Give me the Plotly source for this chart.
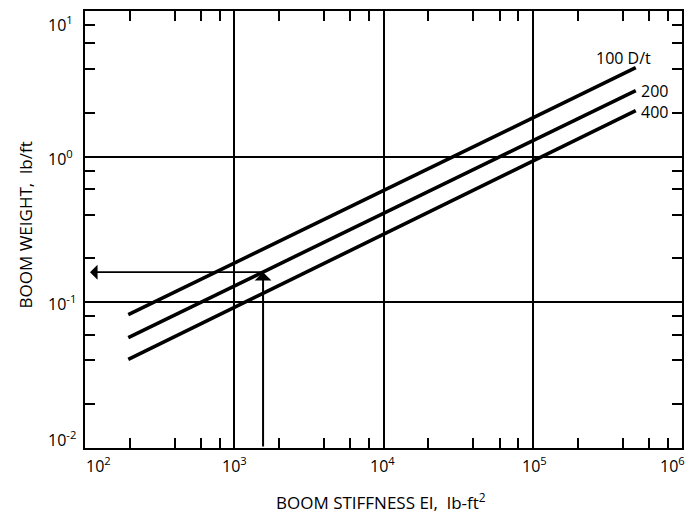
import math
import plotly.graph_objects as go

# Boom weight vs. boom stiffness for three diameter/thickness ratios
ei_span = [195, 4.9e5]              # EI, lb-ft^2 (start / end of each curve)
w_100 = [0.0822, 4.08]              # lb/ft, D/t = 100
w_200 = [0.0573, 2.84]              # lb/ft, D/t = 200
w_400 = [0.0406, 2.07]              # lb/ft, D/t = 400
curve_names = ["100 D/t", "200", "400"]

# Worked example: read weight off the 200 D/t curve
example_ei = 1560
example_w = 0.161
example_arrow_end_ei = 108
example_floor_w = 0.01

x_decades = [1e2, 1e3, 1e4, 1e5, 1e6]
x_decade_text = ["10<sup>2</sup>", "10<sup>3</sup>", "10<sup>4</sup>", "10<sup>5</sup>", "10<sup>6</sup>"]
y_decades = [1e-2, 1e-1, 1e0, 1e1]
y_decade_text = ["10<sup>-2</sup>", "10<sup>-1</sup>", "10<sup>0</sup>", "10<sup>1</sup>"]

x_minor = [m * 10 ** e for e in range(2, 6) for m in (2, 4, 6, 8)]
y_minor = [m * 10 ** e for e in range(-2, 1) for m in (2, 4, 6, 8)]

FONT = "Open Sans"
INK = "black"

fig = go.Figure()
for w in (w_100, w_200, w_400):
    fig.add_trace(go.Scatter(x=ei_span, y=w, mode="lines",
                             line=dict(color=INK, width=3.6), showlegend=False,
                             hoverinfo="skip"))

lg = math.log10

# curve labels
fig.add_annotation(x=lg(ei_span[1]), y=lg(w_100[1]), text=curve_names[0], showarrow=False,
                   xanchor="right", yanchor="middle", xshift=17, yshift=10,
                   font=dict(family=FONT, size=16, color=INK))
fig.add_annotation(x=lg(ei_span[1]), y=lg(w_200[1]), text=curve_names[1], showarrow=False,
                   xanchor="left", yanchor="middle", xshift=3, yshift=0,
                   font=dict(family=FONT, size=16, color=INK))
fig.add_annotation(x=lg(ei_span[1]), y=lg(w_400[1]), text=curve_names[2], showarrow=False,
                   xanchor="left", yanchor="middle", xshift=3, yshift=-1,
                   font=dict(family=FONT, size=16, color=INK))

# example arrows
fig.add_annotation(x=lg(example_ei), y=lg(example_w), ax=lg(example_ei), ay=lg(example_floor_w),
                   xref="x", yref="y", axref="x", ayref="y", text="", showarrow=True,
                   arrowhead=1, arrowsize=1.4, arrowwidth=2, arrowcolor=INK, standoff=0)
fig.add_annotation(x=lg(example_arrow_end_ei), y=lg(example_w), ax=lg(example_ei), ay=lg(example_w),
                   xref="x", yref="y", axref="x", ayref="y", text="", showarrow=True,
                   arrowhead=1, arrowsize=1.4, arrowwidth=1.8, arrowcolor=INK, standoff=0)

# decade labels, corners nudged inward
x_shifts = [13, 0, -1, 2, -10]
for v, t, dx in zip(x_decades, x_decade_text, x_shifts):
    fig.add_annotation(x=lg(v), y=0, xref="x", yref="paper", text=t, showarrow=False,
                       xanchor="center", yanchor="middle", xshift=dx, yshift=-17,
                       font=dict(family=FONT, size=16, color=INK))
y_shifts = [9, -1, -1, -13]
for v, t, dy in zip(y_decades, y_decade_text, y_shifts):
    fig.add_annotation(x=0, y=lg(v), xref="paper", yref="y", text=t, showarrow=False,
                       xanchor="left", yanchor="middle", xshift=-39, yshift=dy,
                       font=dict(family=FONT, size=16, color=INK))

# axis titles
fig.add_annotation(x=0.496, y=0, xref="paper", yref="paper",
                   text="BOOM STIFFNESS EI,  lb-ft<sup>2</sup>", showarrow=False,
                   xanchor="center", yanchor="middle", yshift=-53,
                   font=dict(family=FONT, size=17, color=INK))
fig.add_annotation(x=0, y=0.5, xref="paper", yref="paper",
                   text="BOOM WEIGHT,  lb/ft", showarrow=False, textangle=-90,
                   xanchor="center", yanchor="middle", xshift=-60, yshift=4,
                   font=dict(family=FONT, size=17, color=INK))

axis_common = dict(
    type="log", showticklabels=False, ticks="", showgrid=True,
    gridcolor=INK, gridwidth=1.5, zeroline=False,
    showline=True, linecolor=INK, linewidth=2, mirror="ticks",
)
fig.update_xaxes(range=[2, 6], tickmode="array", tickvals=x_decades,
                 minor=dict(tickmode="array", tickvals=x_minor, ticks="inside",
                            ticklen=10, tickwidth=1.6, tickcolor=INK, showgrid=False),
                 **axis_common)
fig.update_yaxes(range=[-2, 1], tickmode="array", tickvals=y_decades,
                 minor=dict(tickmode="array", tickvals=y_minor, ticks="inside",
                            ticklen=10, tickwidth=1.6, tickcolor=INK, showgrid=False),
                 **axis_common)

fig.update_layout(
    width=697, height=515,
    margin=dict(l=85, r=15, t=9, b=67),
    paper_bgcolor="white", plot_bgcolor="white",
    showlegend=False,
    font=dict(family=FONT, color=INK),
)

fig.write_html("out.html")
